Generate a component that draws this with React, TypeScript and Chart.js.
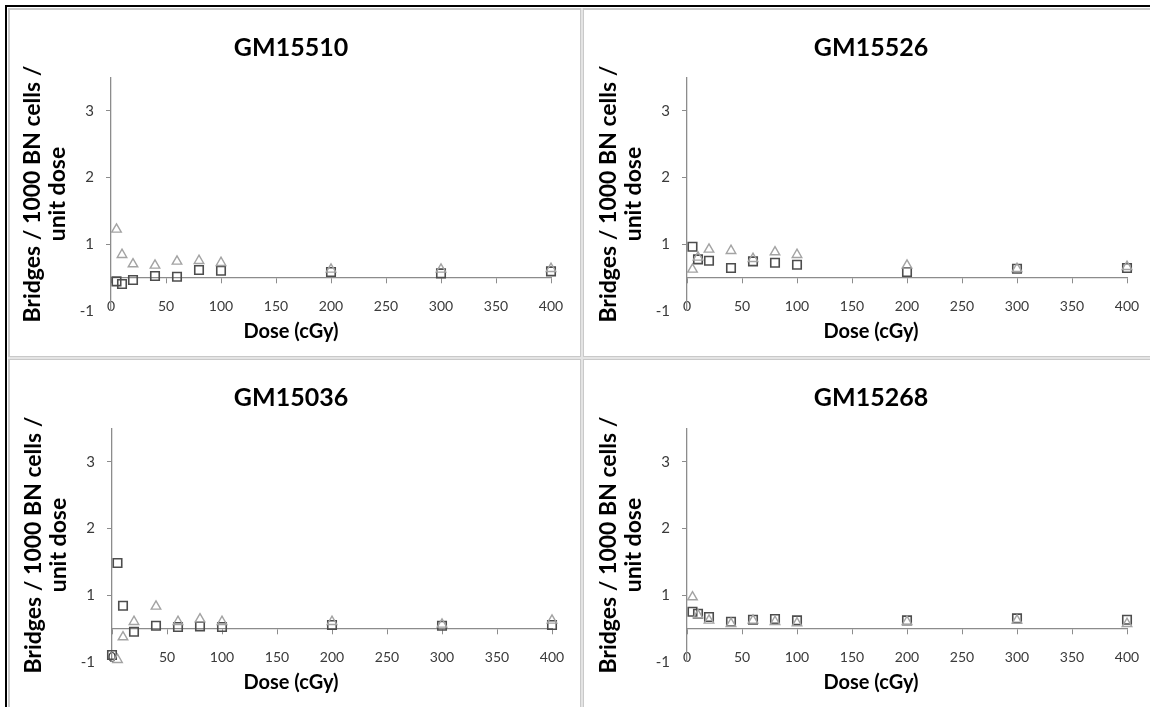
import React, { useEffect, useRef } from 'react';
import { Chart, registerables } from 'chart.js';

Chart.register(...registerables);

// ---------- data ----------
const doses = [5, 10, 20, 40, 60, 80, 100, 200, 300, 400];
const dosesGM15036 = [0, 5, 10, 20, 40, 60, 80, 100, 200, 300, 400];

const panelTitles = ['GM15510', 'GM15526', 'GM15036', 'GM15268'];

const gm15510Triangles = [1.22, 0.84, 0.7, 0.68, 0.74, 0.75, 0.72, 0.62, 0.62, 0.63];
const gm15510Squares = [0.44, 0.4, 0.46, 0.52, 0.51, 0.61, 0.6, 0.58, 0.56, 0.59];

const gm15526Triangles = [0.62, 0.8, 0.92, 0.9, 0.78, 0.88, 0.84, 0.68, 0.63, 0.66];
const gm15526Squares = [0.96, 0.77, 0.75, 0.64, 0.74, 0.72, 0.69, 0.58, 0.63, 0.64];

const gm15036Triangles = [null, 0.03, 0.37, 0.6, 0.83, 0.6, 0.64, 0.6, 0.6, 0.56, 0.62];
const gm15036Squares = [0.1, 1.48, 0.84, 0.45, 0.54, 0.52, 0.53, 0.52, 0.55, 0.54, 0.55];

const gm15268Triangles = [0.97, 0.7, 0.62, 0.57, 0.62, 0.6, 0.58, 0.6, 0.62, 0.57];
const gm15268Squares = [0.75, 0.72, 0.67, 0.6, 0.63, 0.64, 0.62, 0.62, 0.65, 0.63];

const yTickValues = [0, 1, 2, 3];
const yTickLabels = ['-1', '1', '2', '3'];
const xTitle = 'Dose (cGy)';
const yTitle = ['Bridges / 1000 BN cells /', 'unit dose'];

// ---------- styling / layout ----------
const FONT = 'Lato, "Open Sans", sans-serif';
const AXIS_COLOR = '#8c8c8c';
const TICK_COLOR = '#3a3a3a';
const TRI_COLOR = '#a3a3a3';
const SQ_COLOR = '#4d4d4d';

const TITLE_SIZE = 25;
const TITLE_LH = 1.2;
const SUB_SIZE = 20;
const SUB_LH = 1.2;
const YT_SIZE = 23;
const YT_LH = 1.05;
const TICK_SIZE = 14;
const TICK_LH = 1.2;

type Box = {
  left: number; top: number; width: number; height: number;
  chartLeft: number; chartRight: number; chartTop: number; chartBottom: number;
  titleX: number; titleY: number; subY: number;
};

const boxes: Box[] = [
  { left: 10, top: 10, width: 570, height: 346, chartLeft: 111, chartRight: 551, chartTop: 77.4, chartBottom: 310.7, titleX: 291, titleY: 48, subY: 332 },
  { left: 585, top: 10, width: 565, height: 346, chartLeft: 687, chartRight: 1127, chartTop: 77.4, chartBottom: 310.7, titleX: 871, titleY: 48, subY: 332 },
  { left: 10, top: 360, width: 570, height: 347, chartLeft: 112, chartRight: 552, chartTop: 428.4, chartBottom: 661.7, titleX: 291, titleY: 398, subY: 683 },
  { left: 585, top: 360, width: 565, height: 347, chartLeft: 687, chartRight: 1127, chartTop: 428.4, chartBottom: 661.7, titleX: 871, titleY: 398, subY: 683 },
];

const seriesByPanel: { x: number[]; tri: (number | null)[]; sq: (number | null)[] }[] = [
  { x: doses, tri: gm15510Triangles, sq: gm15510Squares },
  { x: doses, tri: gm15526Triangles, sq: gm15526Squares },
  { x: dosesGM15036, tri: gm15036Triangles, sq: gm15036Squares },
  { x: doses, tri: gm15268Triangles, sq: gm15268Squares },
];

function Panel({ title, xs, tri, sq, box }: { title: string; xs: number[]; tri: (number | null)[]; sq: (number | null)[]; box: Box }) {
  const ref = useRef<HTMLCanvasElement | null>(null);
  useEffect(() => {
    if (!ref.current) return;
    const titleLH = TITLE_SIZE * TITLE_LH;
    const subLH = SUB_SIZE * SUB_LH;
    const ytLH = YT_SIZE * YT_LH;
    const tickLH = TICK_SIZE * TICK_LH;
    const tPT = box.titleY - box.top - titleLH / 2;
    const tPB = box.chartTop - box.top - tPT - titleLH;
    const sPB = box.top + box.height - box.subY - subLH / 2;
    const xH = box.top + box.height - sPB - subLH - box.chartBottom;
    const padRight = box.left + box.width - box.chartRight;
    const padLeft = 2 * (box.titleX - box.left) - (box.width - padRight);
    const yW = box.chartLeft - box.left - padLeft;
    const ytPT = (box.chartLeft - 78) - (box.left + padLeft) - ytLH / 2;
    const xLabelPad = 4 - tickLH / 2;

    const toPoints = (vals: (number | null)[]) =>
      xs.map((d, i) => ({ x: d, y: vals[i] })).filter((p) => p.y !== null);

    const chart = new Chart(ref.current, {
      type: 'scatter',
      data: {
        datasets: [
          {
            data: toPoints(tri),
            pointStyle: 'triangle',
            radius: 5.5,
            borderColor: TRI_COLOR,
            backgroundColor: 'rgba(255,255,255,0)',
            borderWidth: 1.4,
            clip: false,
            xAxisID: 'x',
            yAxisID: 'y',
          },
          {
            data: toPoints(sq),
            pointStyle: 'rect',
            radius: 6,
            borderColor: SQ_COLOR,
            backgroundColor: 'rgba(255,255,255,0)',
            borderWidth: 1.6,
            clip: false,
            xAxisID: 'x',
            yAxisID: 'y',
          },
        ],
      },
      options: {
        animation: false,
        responsive: false,
        maintainAspectRatio: false,
        events: [],
        layout: { padding: { left: padLeft, right: padRight, top: 0, bottom: 0 } },
        plugins: {
          legend: { display: false },
          tooltip: { enabled: false },
          title: {
            display: true,
            text: title,
            color: '#000',
            font: { family: FONT, size: TITLE_SIZE, weight: 'bold', lineHeight: TITLE_LH },
            padding: { top: tPT, bottom: tPB },
          },
          subtitle: {
            display: true,
            position: 'bottom',
            text: xTitle,
            color: '#000',
            font: { family: FONT, size: SUB_SIZE, weight: 'bold', lineHeight: SUB_LH },
            padding: { top: 0, bottom: sPB },
          },
        },
        scales: {
          x: {
            type: 'linear',
            axis: 'x',
            position: 'bottom',
            min: 0,
            max: 400,
            ticks: {
              stepSize: 50,
              mirror: true,
              padding: xLabelPad,
              color: TICK_COLOR,
              font: { family: FONT, size: TICK_SIZE, lineHeight: TICK_LH },
              maxRotation: 0,
              autoSkip: false,
            },
            grid: { display: false, drawTicks: false },
            border: { display: false },
            afterFit: (s: any) => { s.height = xH; },
          },
          x2: {
            type: 'linear',
            axis: 'x',
            position: { y: 0.5 },
            min: 0,
            max: 400,
            ticks: { stepSize: 50, display: false },
            grid: { drawOnChartArea: false, drawTicks: true, tickLength: 5, color: AXIS_COLOR },
            border: { display: true, color: AXIS_COLOR, width: 1.3 },
          },
          y: {
            type: 'linear',
            position: 'left',
            min: 0,
            max: 3.5,
            afterBuildTicks: (s: any) => { s.ticks = yTickValues.map((v) => ({ value: v })); },
            ticks: {
              callback: (_v: any, i: number) => yTickLabels[i],
              padding: 12,
              color: TICK_COLOR,
              font: { family: FONT, size: 15 },
            },
            grid: {
              drawOnChartArea: false,
              tickLength: 5,
              color: AXIS_COLOR,
              tickColor: (ctx: any) => (ctx.tick && ctx.tick.value === 0 ? 'rgba(0,0,0,0)' : AXIS_COLOR),
            },
            border: { display: true, color: AXIS_COLOR, width: 1.3 },
            title: {
              display: true,
              text: yTitle,
              color: '#000',
              font: { family: FONT, size: YT_SIZE, weight: 'bold', lineHeight: YT_LH },
              padding: { top: ytPT, bottom: 0 },
            },
            afterFit: (s: any) => { s.width = yW; },
          },
        },
      } as any,
    });
    return () => chart.destroy();
  }, [title, xs, tri, sq, box]);

  return (
    <canvas
      ref={ref}
      width={box.width}
      height={box.height}
      style={{ position: 'absolute', left: box.left, top: box.top, width: box.width, height: box.height }}
    />
  );
}

export default function App() {
  const gray = '#c9c9c9';
  return (
    <div style={{ position: 'absolute', left: 0, top: 0, width: 1150, height: 707, background: '#fff', overflow: 'hidden' }}>
      <div style={{ position: 'absolute', left: 5, top: 5, width: 1145, height: 1.6, background: '#000' }} />
      <div style={{ position: 'absolute', left: 5, top: 5, width: 1.6, height: 702, background: '#000' }} />
      <div style={{ position: 'absolute', left: 8, top: 8, width: 1142, height: 2, background: gray }} />
      <div style={{ position: 'absolute', left: 8, top: 8, width: 2, height: 699, background: gray }} />
      <div style={{ position: 'absolute', left: 580, top: 8, width: 4, height: 699, background: gray }} />
      <div style={{ position: 'absolute', left: 8, top: 356, width: 1142, height: 4, background: gray }} />
      <div style={{ position: 'absolute', left: 581, top: 8, width: 2, height: 699, background: '#e4e4e4' }} />
      <div style={{ position: 'absolute', left: 8, top: 357, width: 1142, height: 2, background: '#e4e4e4' }} />
      {boxes.map((b, i) => (
        <Panel
          key={i}
          title={panelTitles[i]}
          xs={seriesByPanel[i].x}
          tri={seriesByPanel[i].tri}
          sq={seriesByPanel[i].sq}
          box={b}
        />
      ))}
    </div>
  );
}
